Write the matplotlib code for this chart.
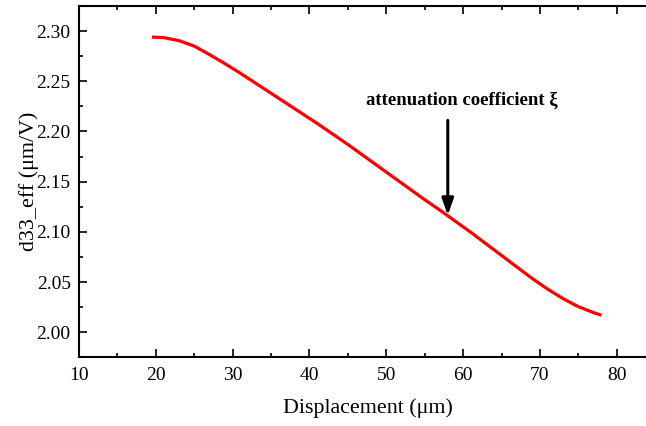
import matplotlib
matplotlib.use("Agg")
import matplotlib.pyplot as plt
from matplotlib.ticker import MultipleLocator

displacement = [19.5, 21, 23, 25, 27, 29, 31, 33, 35, 37, 39, 41, 43, 45, 47, 49,
                51, 53, 55, 57, 59, 61, 63, 65, 67, 69, 71, 73, 75, 77, 78]
d33_eff = [2.2940, 2.2935, 2.2905, 2.2850, 2.2765, 2.2675, 2.2580, 2.2480, 2.2380,
           2.2280, 2.2180, 2.2080, 2.1975, 2.1870, 2.1760, 2.1650, 2.1540, 2.1430,
           2.1320, 2.1215, 2.1105, 2.0995, 2.0880, 2.0765, 2.0650, 2.0535, 2.0430,
           2.0335, 2.0255, 2.0195, 2.0170]

annot_text = "attenuation coefficient ξ"
arrow_x = 58.0
arrow_tail_y = 2.211
arrow_head_y = 2.1165

plt.rcParams['font.family'] = ['Liberation Serif', 'DejaVu Serif']
plt.rcParams['mathtext.fontset'] = 'stix'

fig = plt.figure(figsize=(6.46, 4.26), dpi=100)
ax = fig.add_axes([0.1223, 0.162, 0.8777, 0.8245])

ax.plot(displacement, d33_eff, color='#ff0000', lw=2.3, solid_capstyle='butt')

ax.set_xlim(10, 83.8)
ax.set_ylim(1.9754, 2.3252)
ax.xaxis.set_major_locator(MultipleLocator(10))
ax.xaxis.set_minor_locator(MultipleLocator(5))
ax.yaxis.set_major_locator(MultipleLocator(0.05))
ax.yaxis.set_minor_locator(MultipleLocator(0.025))
ax.yaxis.set_major_formatter(matplotlib.ticker.FormatStrFormatter('%.2f'))

ax.tick_params(which='both', direction='in', top=True, right=False, width=1.2, colors='black')
ax.tick_params(which='major', length=6, labelsize=14, pad=6)
ax.tick_params(which='minor', length=3)
ax.tick_params(axis='x', which='major', pad=7)
for s in ['left', 'bottom', 'top']:
    ax.spines[s].set_linewidth(1.5)
ax.spines['right'].set_visible(False)

ax.set_xlabel('Displacement (μm)', fontsize=15.8, labelpad=11.5)
ax.xaxis.set_label_coords(0.509, -0.118, transform=ax.transAxes)
ax.xaxis.label.set_va('top')
ax.set_ylabel('d33_eff (μm/V)', fontsize=15.8, labelpad=-1.5)

ax.annotate('', xy=(arrow_x, arrow_head_y), xytext=(arrow_x, arrow_tail_y),
            arrowprops=dict(arrowstyle='-|>,head_length=1.0,head_width=0.35',
                            color='black', lw=2.2, shrinkA=0, shrinkB=0))
ax.text(59.8, 2.231, annot_text, fontsize=13.5, fontweight='bold', ha='center', va='center')

fig.savefig('out.png', dpi=100)
